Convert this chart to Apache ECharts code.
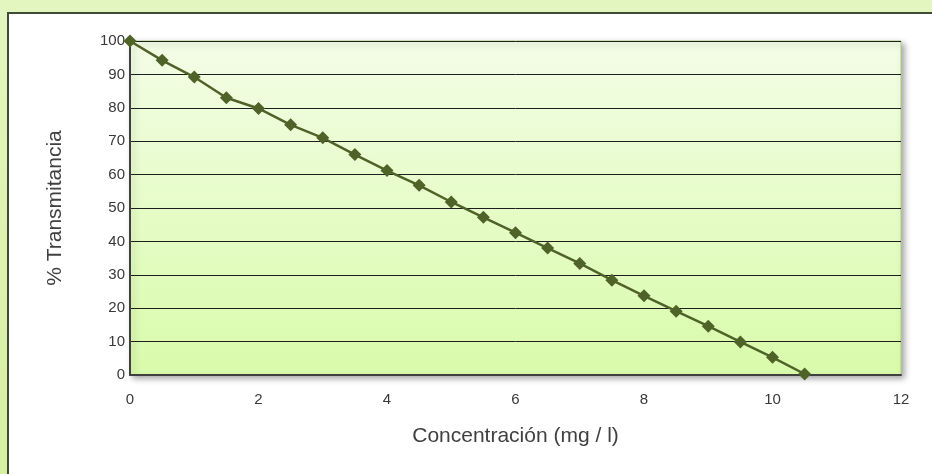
<!DOCTYPE html>
<html>
<head>
<meta charset="utf-8">
<script src="https://cdn.jsdelivr.net/npm/echarts@6/dist/echarts.min.js"></script>
<style>
  html, body { margin: 0; padding: 0; background: #dcf1ae; }
  #chart { width: 932px; height: 474px; }
</style>
</head>
<body>
<div id="chart"></div>
<script>
// Concentration (mg/l) and measured % transmittance
const concentracion = [0, 0.5, 1, 1.5, 2, 2.5, 3, 3.5, 4, 4.5, 5, 5.5, 6, 6.5, 7, 7.5, 8, 8.5, 9, 9.5, 10, 10.5];
const transmitancia = [100, 94.2, 89.2, 83, 79.8, 74.9, 71, 66, 61.2, 56.8, 51.8, 47.2, 42.6, 38, 33.4, 28.4, 23.7, 19.1, 14.6, 9.9, 5.3, 0.3];
const xTicks = [0, 2, 4, 6, 8, 10, 12];
const yTicks = [0, 10, 20, 30, 40, 50, 60, 70, 80, 90, 100];

const puntos = concentracion.map((c, i) => [c, transmitancia[i]]);

const chart = echarts.init(document.getElementById('chart'), null, { renderer: 'canvas' });

const fuente = 'Liberation Sans, Arial, sans-serif';
const tickText = { fontFamily: fuente, fontSize: 15, color: '#383838' };
const titleText = { fontFamily: fuente, fontSize: 21, color: '#404040' };

chart.setOption({
  animation: false,
  backgroundColor: {
    type: 'linear', x: 0, y: 0, x2: 0, y2: 1,
    colorStops: [{ offset: 0, color: '#e4f6c0' }, { offset: 1, color: '#d6efa0' }]
  },
  graphic: [{
    type: 'rect',
    z: -10,
    shape: { x: 8, y: 13, width: 940, height: 480 },
    style: { fill: '#ffffff', stroke: '#3f4a35', lineWidth: 2 }
  }],
  grid: {
    left: 130, right: 31, top: 41, bottom: 99,
    show: true,
    borderColor: '#a9cf7d',
    borderWidth: 1,
    backgroundColor: {
      type: 'linear', x: 0, y: 0, x2: 0, y2: 1,
      colorStops: [{ offset: 0, color: '#f3fde6' }, { offset: 1, color: '#d9fbaa' }]
    },
    shadowColor: 'rgba(0,0,0,0.35)',
    shadowBlur: 6,
    shadowOffsetX: 3,
    shadowOffsetY: 3
  },
  xAxis: {
    type: 'value',
    min: xTicks[0], max: xTicks[xTicks.length - 1], interval: 2,
    name: 'Concentración (mg / l)',
    nameLocation: 'middle',
    nameGap: 51,
    nameTextStyle: titleText,
    axisLine: { show: true, lineStyle: { color: '#404040', width: 2 } },
    axisTick: { show: false },
    splitLine: { show: false },
    axisLabel: Object.assign({}, tickText, { margin: 17 })
  },
  yAxis: {
    type: 'value',
    min: yTicks[0], max: yTicks[yTicks.length - 1], interval: 10,
    name: '% Transmitancia',
    nameLocation: 'middle',
    nameGap: 64,
    nameTextStyle: titleText,
    axisLine: { show: true, lineStyle: { color: '#404040', width: 2 } },
    axisTick: { show: false },
    splitLine: { show: true, lineStyle: { color: '#1e1e1e', width: 1 } },
    axisLabel: Object.assign({}, tickText, { margin: 5 })
  },
  series: [{
    type: 'line',
    data: puntos,
    symbol: 'diamond',
    symbolSize: 13,
    lineStyle: { color: '#4f6228', width: 2.5 },
    itemStyle: { color: '#4f6228' },
    z: 5
  }]
});
</script>
</body>
</html>
